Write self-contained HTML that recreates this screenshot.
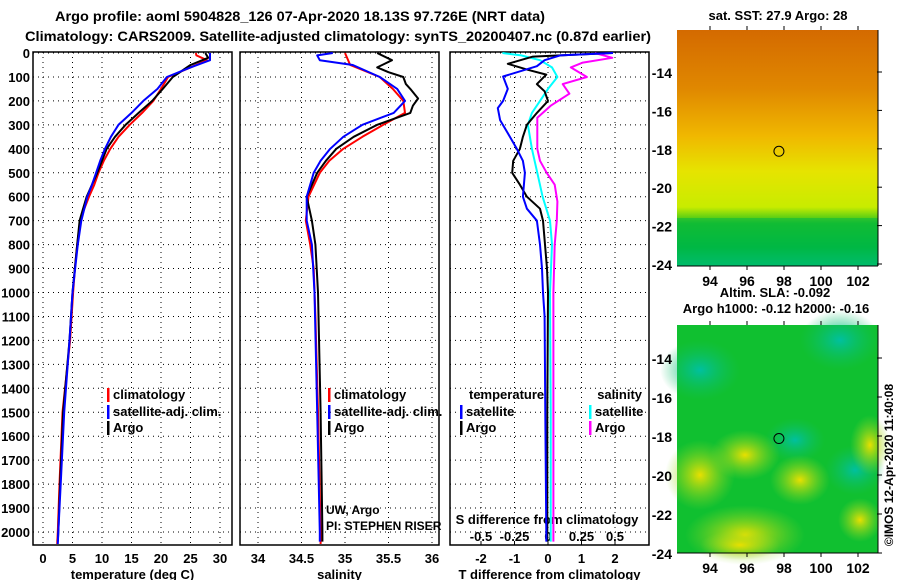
<!DOCTYPE html>
<html><head><meta charset="utf-8"><style>
html,body{margin:0;padding:0;background:#fff}
svg{display:block}
text{font-family:"Liberation Sans Narrow","Liberation Sans",sans-serif;font-weight:bold;fill:#000}
</style></head><body>
<svg id="fig" width="900" height="580" viewBox="0 0 900 580">
<defs>
<linearGradient id="sstg" x1="0" y1="0" x2="0" y2="1">
<stop offset="0" stop-color="#d46a00"/><stop offset="0.25" stop-color="#e08800"/>
<stop offset="0.45" stop-color="#f0b800"/><stop offset="0.6" stop-color="#e6e400"/>
<stop offset="0.75" stop-color="#c8ec00"/><stop offset="0.82" stop-color="#22c020"/>
<stop offset="0.92" stop-color="#00b840"/><stop offset="1" stop-color="#00c090"/>
</linearGradient>
<radialGradient id="yb"><stop offset="0" stop-color="#e8e000"/><stop offset="1" stop-color="#8ed82a" stop-opacity="0"/></radialGradient>
<radialGradient id="cb"><stop offset="0" stop-color="#00c0a0"/><stop offset="1" stop-color="#10c060" stop-opacity="0"/></radialGradient>
</defs>
<g id="titles">
<text x="300" y="21" font-size="14" text-anchor="middle" textLength="490" lengthAdjust="spacingAndGlyphs">Argo profile: aoml 5904828_126 07-Apr-2020 18.13S 97.726E (NRT data)</text>
<text x="338" y="41" font-size="14" text-anchor="middle" textLength="626" lengthAdjust="spacingAndGlyphs">Climatology: CARS2009. Satellite-adjusted climatology: synTS_20200407.nc (0.87d earlier)</text>
</g>
<g id="plots"></g>
<g id="maps"></g>
</svg>
<script>
// ---------- data ----------
const depthTicks=[0,100,200,300,400,500,600,700,800,900,1000,1100,1200,1300,1400,1500,1600,1700,1800,1900,2000];
const tempTicks=[0,5,10,15,20,25,30];
const salTicks=[34,34.5,35,35.5,36];
const salTickLabels=["34","34.5","35","35.5","36"];
const tdTicks=[-2,-1,0,1,2];
const sdTicks=[-0.5,-0.25,0,0.25,0.5];
const sdTickLabels=["-0.5","-0.25","0","0.25","0.5"];

const tClimDepth=[0,10,30,60,100,150,200,250,300,350,400,450,500,550,600,650,700,800,900,1000,1200,1500,1800,2000,2050];
const tClimVal=[25.9,26,27.8,25,21.2,20,18.7,16.8,14.7,12.8,11.4,10.3,9.4,8.7,7.8,7,6.3,5.8,5.4,5.1,4.6,3.3,2.8,2.5,2.4];
const tSatDepth=[0,30,60,100,150,200,250,300,350,400,450,500,550,600,700,800,1000,1200,1500,1800,2000,2050];
const tSatVal=[28.3,28.3,25,21,19.4,17,15,12.8,11.5,10.5,9.7,9.0,8.3,7.5,6.5,5.9,5.0,4.5,3.6,3.0,2.6,2.5];
const tArgoDepth=[0,20,30,50,100,150,200,250,300,350,400,450,500,550,600,650,700,800,1000,1200,1500,1800,2000,2040];
const tArgoVal=[27.5,28,27,25,22,20.3,18.5,16.2,14,12.2,10.8,10,9.2,8.3,7.4,6.8,6.2,5.8,5.0,4.5,3.4,2.9,2.6,2.5];

const sClimDepth=[0,50,100,150,200,250,300,350,400,450,500,600,700,800,900,1100,1500,2000,2050];
const sClimVal=[35.0,35.06,35.4,35.55,35.67,35.69,35.44,35.2,34.98,34.82,34.71,34.58,34.55,34.6,34.64,34.66,34.69,34.72,34.72];
const sSatDepth=[0,10,30,50,100,150,200,250,300,350,400,450,500,600,700,800,1000,1500,2000,2040];
const sSatVal=[34.86,34.68,34.71,35.09,35.4,35.6,35.69,35.56,35.2,34.98,34.83,34.72,34.64,34.56,34.56,34.62,34.65,34.68,34.71,34.71];
const sArgoDepth=[0,30,60,80,100,130,150,190,220,250,300,350,400,450,500,600,700,800,1000,1500,2000,2040];
const sArgoVal=[35.37,35.54,35.37,35.5,35.67,35.7,35.75,35.84,35.78,35.75,35.37,35.1,34.9,34.78,34.68,34.56,34.62,34.66,34.69,34.72,34.74,34.74];

const dtSatDepth=[0,10,30,55,98,150,200,230,280,330,400,450,500,600,650,700,800,900,1000,1100,1500,2000,2040];
const dtSatVal=[1.94,0.36,-0.1,-0.33,-1.34,-1.2,-1.34,-1.5,-1.43,-1.22,-0.93,-0.75,-0.69,-0.75,-0.63,-0.33,-0.24,-0.18,-0.15,-0.1,-0.08,-0.05,-0.05];
const dtArgoDepth=[0,15,45,70,90,130,160,200,250,300,350,400,450,500,550,600,650,700,800,900,1000,1500,2000,2040];
const dtArgoVal=[1.9,-0.45,-1.2,-0.6,-0.05,-0.33,-0.1,0,-0.33,-0.63,-0.75,-0.84,-1.04,-1.07,-0.84,-0.63,-0.24,-0.15,-0.09,-0.03,0,-0.02,-0.02,-0.02];
const dsSatDepth=[0,10,30,60,100,150,200,250,300,400,500,600,700,800,1000,1500,2000,2040];
const dsSatVal=[-0.34,-0.2,-0.06,0.03,0.07,0,-0.06,-0.12,-0.15,-0.12,-0.08,-0.04,0.015,0.03,0.015,0.02,0.02,0.02];
const dsArgoDepth=[0,20,40,60,100,130,170,220,270,300,400,450,500,550,620,700,800,1000,1500,2000,2040];
const dsArgoVal=[0.35,0.48,0.26,0.17,0.29,0.11,0.16,0.02,-0.08,-0.08,-0.08,-0.06,-0.01,0.05,0.07,0.066,0.05,0.04,0.04,0.04,0.04];

const latTicks=[-14,-16,-18,-20,-22,-24];
const lonTicks=[94,96,98,100,102];

// ---------- helpers ----------
const NS="http://www.w3.org/2000/svg";
const plots=document.getElementById('plots');
function mk(tag,attrs,parent){const e=document.createElementNS(NS,tag);for(const k in attrs)e.setAttribute(k,attrs[k]);(parent||plots).appendChild(e);return e;}
const Y0=53,KY=0.2395,TOP=52,BOT=545;
function yD(d){return Y0+KY*d;}

const panels=[
 {x0:33,x1:232,sx:v=>43+5.9*v,ticks:tempTicks,labels:tempTicks.map(String),title:"temperature (deg C)",name:"temperature-panel"},
 {x0:240,x1:439,sx:v=>258+87*(v-34),ticks:salTicks,labels:salTickLabels,title:"salinity",name:"salinity-panel"},
 {x0:450,x1:649,sx:v=>548+33.5*v,ticks:tdTicks,labels:tdTicks.map(String),title:"T difference from climatology",name:"difference-panel"}
];
const sxS=v=>548+134*v;

panels.forEach((p,i)=>{
 const g=mk('g',{});
 
 
 // grid
 depthTicks.forEach(d=>{const l=mk('line',{x1:p.x0,x2:p.x1,y1:yD(d),y2:yD(d),stroke:'#000','stroke-width':1,'stroke-dasharray':'1,4'},g);});
 p.ticks.forEach((t,j)=>{const x=p.sx(t);
  const l=mk('line',{x1:x,x2:x,y1:TOP,y2:BOT,stroke:'#000','stroke-width':1,'stroke-dasharray':'1,4'},g);
  
  const tx=mk('text',{x:x,y:563,'font-size':13,'text-anchor':'middle'},g);tx.textContent=p.labels[j];
  });
 const r=mk('rect',{x:p.x0,y:TOP,width:p.x1-p.x0,height:BOT-TOP,fill:'none',stroke:'#000','stroke-width':1.5},g);
 
 const tt=mk('text',{x:(p.x0+p.x1)/2,y:579,'font-size':13,'text-anchor':'middle'},g);tt.textContent=p.title;
 
});
// depth labels
depthTicks.forEach(d=>{const t=mk('text',{x:30,y:yD(d)+5,'font-size':13,'text-anchor':'end'});t.textContent=d;
 });
// S diff ticks labels
sdTicks.forEach((t,j)=>{const x=sxS(t);const tx=mk('text',{x:x,y:541,'font-size':13,'text-anchor':'middle'});tx.textContent=sdTickLabels[j];
 
 const l=mk('line',{x1:x,x2:x,y1:BOT,y2:BOT-4,stroke:'#000'});});
const sdt=mk('text',{x:547,y:524,'font-size':13,'text-anchor':'middle'});sdt.textContent="S difference from climatology";


function series(ds,vs,sx,color,name,w){
 const pts=ds.map((d,i)=>sx(vs[i]).toFixed(1)+','+yD(d).toFixed(1)).join(' ');
 const pl=mk('polyline',{points:pts,fill:'none',stroke:color,'stroke-width':w||2,'stroke-linejoin':'round'});
 
 
}
const P=panels;
series(tClimDepth,tClimVal,P[0].sx,'#f00','temp-climatology-line');
series(tArgoDepth,tArgoVal,P[0].sx,'#000','temp-argo-line');
series(tSatDepth,tSatVal,P[0].sx,'#00f','temp-satellite-line');
series(sClimDepth,sClimVal,P[1].sx,'#f00','sal-climatology-line');
series(sArgoDepth,sArgoVal,P[1].sx,'#000','sal-argo-line');
series(sSatDepth,sSatVal,P[1].sx,'#00f','sal-satellite-line');
series(dsArgoDepth,dsArgoVal,sxS,'#f0f','sdiff-argo-line');
series(dsSatDepth,dsSatVal,sxS,'#0ff','sdiff-satellite-line');
series(dtArgoDepth,dtArgoVal,P[2].sx,'#000','tdiff-argo-line');
series(dtSatDepth,dtSatVal,P[2].sx,'#00f','tdiff-satellite-line');

function legend(x,y,color,label,anchor){
 const g=mk('g',{});
 
 
 mk('rect',{x:x,y:y-11,width:2.5,height:14,fill:color},g);
 const t=mk('text',{x:x+6,y:y,'font-size':13},g);t.textContent=label;
}
legend(107,399,'#f00','climatology');legend(107,416,'#00f','satellite-adj. clim.');legend(107,432,'#000','Argo');
legend(328,399,'#f00','climatology');legend(328,416,'#00f','satellite-adj. clim.');legend(328,432,'#000','Argo');
legend(460,416,'#00f','satellite');legend(460,432,'#000','Argo');
legend(589,416,'#0ff','satellite');legend(589,432,'#f0f','Argo');
const lt1=mk('text',{x:469,y:399,'font-size':13});lt1.textContent='temperature';
const lt2=mk('text',{x:642,y:399,'font-size':13,'text-anchor':'end'});lt2.textContent='salinity';
const c1=mk('text',{x:326,y:514,'font-size':12,'font-weight':'normal'});c1.textContent='UW, Argo';
const c2=mk('text',{x:326,y:530,'font-size':12,'font-weight':'normal'});c2.textContent='PI: STEPHEN RISER';

// ---------- maps ----------
const maps=document.getElementById('maps');
function mapPanel(y0,y1,name,fill,latY){
 const g=mk('g',{},maps);
 
 
 mk('rect',{x:677,y:y0,width:201,height:y1-y0,fill:fill},g);
 return g;
}
const lonX=v=>710+18.5*(v-94);
// top SST map
const g1=mapPanel(30,266,'sst-map','url(#sstg)');
mk('rect',{x:677,y:218,width:201,height:48,fill:'#00b848','opacity':0.5},g1);
const latTop=v=>72+(-14-v)*19.2;
const latBot=v=>358+(-14-v)*19.5;
function mapAxes(g,latf,y0,y1){
 latTicks.forEach(v=>{const y=latf(v);if(y<y0-2||y>y1+2)return;
  mk('line',{x1:877,x2:882,y1:y,y2:y,stroke:'#000'},g);
  const t=mk('text',{x:672,y:y+6,'font-size':14,'font-weight':'normal','text-anchor':'end'},g);t.textContent=v;
  });
 lonTicks.forEach(v=>{const x=lonX(v);mk('line',{x1:x,x2:x,y1:y0,y2:y0-4,stroke:'#000'},g);mk('line',{x1:x,x2:x,y1:y1,y2:y1+4,stroke:'#000'},g);
  const t=mk('text',{x:x,y:y1+20,'font-size':14,'font-weight':'normal','text-anchor':'middle'},g);t.textContent=v;
  });
 mk('line',{x1:677,x2:878,y1:y1,y2:y1,stroke:'#000'},g);
 mk('line',{x1:878,x2:878,y1:y0,y2:y1,stroke:'#000'},g);
 mk('circle',{cx:lonX(97.726),cy:latf(-18.13),r:5,fill:'none',stroke:'#000','stroke-width':1},g);
}
mapAxes(g1,latTop,30,266);
// bottom SLA map
const g2=mapPanel(325,553,'sla-map','#10c030');
[[700,370,40,30,'cb'],[840,340,40,30,'cb'],[795,440,30,22,'cb'],[855,470,30,25,'cb'],
 [700,475,35,35,'yb'],[745,455,35,25,'yb'],[800,480,30,25,'yb'],[870,445,20,30,'yb'],[860,520,22,22,'yb'],[745,535,60,30,'yb'],[740,545,40,15,'yb']].forEach(b=>{
 mk('ellipse',{cx:b[0],cy:b[1],rx:b[2],ry:b[3],fill:'url(#'+b[4]+')'},g2);});
mapAxes(g2,latBot,325,553);
function mtext(x,y,s,name,sz){const t=mk('text',{x:x,y:y,'font-size':sz||13,'text-anchor':'middle'},maps);t.textContent=s;return t;}
mtext(778,20,'sat. SST: 27.9 Argo: 28','sst-map-title');
mtext(775,297,'Altim. SLA: -0.092','sla-value-label');
mtext(776,313,'Argo h1000: -0.12 h2000: -0.16','argo-height-label');
const rt=mk('text',{x:0,y:0,'font-size':12,'font-weight':'normal','text-anchor':'middle',transform:'translate(893,465) rotate(-90)'},maps);
rt.textContent='©IMOS 12-Apr-2020 11:40:08';


</script>
</body></html>
